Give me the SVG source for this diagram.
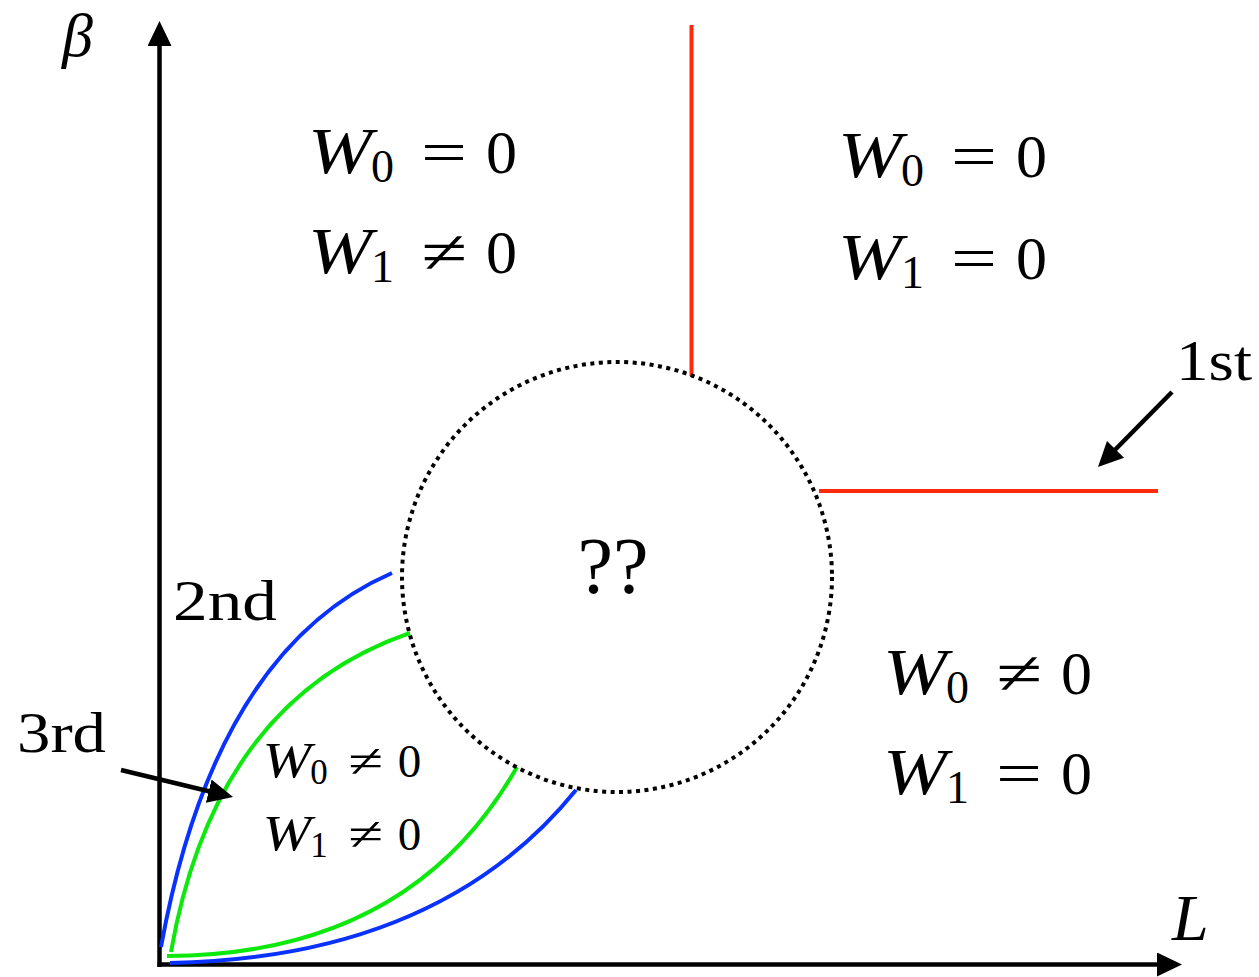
<svg xmlns="http://www.w3.org/2000/svg" width="1259" height="977" viewBox="0 0 1259 977">
<style>
text{font-family:"Liberation Serif","Times New Roman",serif;fill:#000}
.it{font-style:italic}
.big{font-size:62px}
.w{font-size:66px}
.sub{font-size:46px}
.lbl{font-size:58px}
.ax{stroke:#000;stroke-width:4.5;fill:none}
.arr{stroke:#000;stroke-width:4.5;fill:none}
.blue{stroke:#0a32ff;stroke-width:4;fill:none}
.green{stroke:#0de80d;stroke-width:4;fill:none}
.red{stroke:#ff2a0a;stroke-width:4;fill:none}
</style>
<defs>
<marker id="ah" markerUnits="userSpaceOnUse" markerWidth="26" markerHeight="26" refX="15" refY="12" orient="auto" viewBox="0 0 26 26">
<path d="M0,0 L25,12 L0,24 z" fill="#000"/>
</marker>
</defs>
<g id="axes">
<line class="ax" x1="159.5" y1="967" x2="159.5" y2="31" marker-end="url(#ah)"/>
<line class="ax" x1="157.5" y1="964.5" x2="1172" y2="964.5" marker-end="url(#ah)"/>
<text class="it" x="62" y="56" font-size="62">β</text>
<text class="it" x="1172" y="940" font-size="66">L</text>
</g>
<g id="connectors">
<line class="red" x1="691.5" y1="25" x2="691.5" y2="376"/>
<line class="red" x1="819" y1="491" x2="1158" y2="491"/>
<path class="blue" d="M161,947 Q215,650 392,573"/>
<path class="green" d="M171,952 Q215,700 410,633"/>
<path class="green" d="M167,956 Q410,955 517,767"/>
<path class="blue" d="M170,963 Q440,958 576,790"/>
<line class="arr" x1="1172" y1="392" x2="1105" y2="460" marker-end="url(#ah)"/>
<line class="arr" x1="121" y1="770" x2="223.3" y2="794.7" marker-end="url(#ah)"/>
</g>
<g id="unknown">
<circle cx="617" cy="577" r="215" fill="none" stroke="#000" stroke-width="4" stroke-dasharray="4 4.5"/>
<text x="613" y="593" font-size="80" text-anchor="middle">??</text>
</g>
<g id="region-top-left">
<text class="big"><tspan class="it w" x="308" y="173" textLength="64" lengthAdjust="spacingAndGlyphs">W</tspan><tspan class="sub" x="371" y="182">0</tspan><tspan x="421" y="173" textLength="46" lengthAdjust="spacingAndGlyphs">=</tspan><tspan x="486" y="173">0</tspan></text>
<text class="big"><tspan class="it w" x="308" y="273" textLength="64" lengthAdjust="spacingAndGlyphs">W</tspan><tspan class="sub" x="371" y="282">1</tspan><tspan x="421" y="273" textLength="46" lengthAdjust="spacingAndGlyphs">≠</tspan><tspan x="486" y="273">0</tspan></text>
</g>
<g id="region-top-right" transform="translate(530,4)">
<text class="big"><tspan class="it w" x="308" y="173" textLength="64" lengthAdjust="spacingAndGlyphs">W</tspan><tspan class="sub" x="371" y="182">0</tspan><tspan x="421" y="173" textLength="46" lengthAdjust="spacingAndGlyphs">=</tspan><tspan x="486" y="173">0</tspan></text>
<text class="big"><tspan class="it w" x="308" y="275" textLength="64" lengthAdjust="spacingAndGlyphs">W</tspan><tspan class="sub" x="371" y="284">1</tspan><tspan x="421" y="275" textLength="46" lengthAdjust="spacingAndGlyphs">=</tspan><tspan x="486" y="275">0</tspan></text>
</g>
<g id="region-bottom-right" transform="translate(575,521)">
<text class="big"><tspan class="it w" x="308" y="173" textLength="64" lengthAdjust="spacingAndGlyphs">W</tspan><tspan class="sub" x="371" y="182">0</tspan><tspan x="421" y="173" textLength="46" lengthAdjust="spacingAndGlyphs">≠</tspan><tspan x="486" y="173">0</tspan></text>
<text class="big"><tspan class="it w" x="308" y="273" textLength="64" lengthAdjust="spacingAndGlyphs">W</tspan><tspan class="sub" x="371" y="282">1</tspan><tspan x="421" y="273" textLength="46" lengthAdjust="spacingAndGlyphs">=</tspan><tspan x="486" y="273">0</tspan></text>
</g>
<g id="region-small" transform="translate(264,777) scale(0.76) translate(-310,-173)">
<text class="big"><tspan class="it w" x="308" y="173" textLength="64" lengthAdjust="spacingAndGlyphs">W</tspan><tspan class="sub" x="371" y="182">0</tspan><tspan x="421" y="173" textLength="46" lengthAdjust="spacingAndGlyphs">≠</tspan><tspan x="486" y="173">0</tspan></text>
<text class="big"><tspan class="it w" x="308" y="269" textLength="64" lengthAdjust="spacingAndGlyphs">W</tspan><tspan class="sub" x="371" y="278">1</tspan><tspan x="421" y="269" textLength="46" lengthAdjust="spacingAndGlyphs">≠</tspan><tspan x="486" y="269">0</tspan></text>
</g>
<g id="label-1st"><text class="lbl" x="1176" y="380" textLength="76" lengthAdjust="spacingAndGlyphs">1st</text></g>
<g id="label-2nd"><text class="lbl" x="173" y="620" textLength="104" lengthAdjust="spacingAndGlyphs">2nd</text></g>
<g id="label-3rd"><text class="lbl" x="17" y="752" textLength="89" lengthAdjust="spacingAndGlyphs">3rd</text></g>
</svg>
